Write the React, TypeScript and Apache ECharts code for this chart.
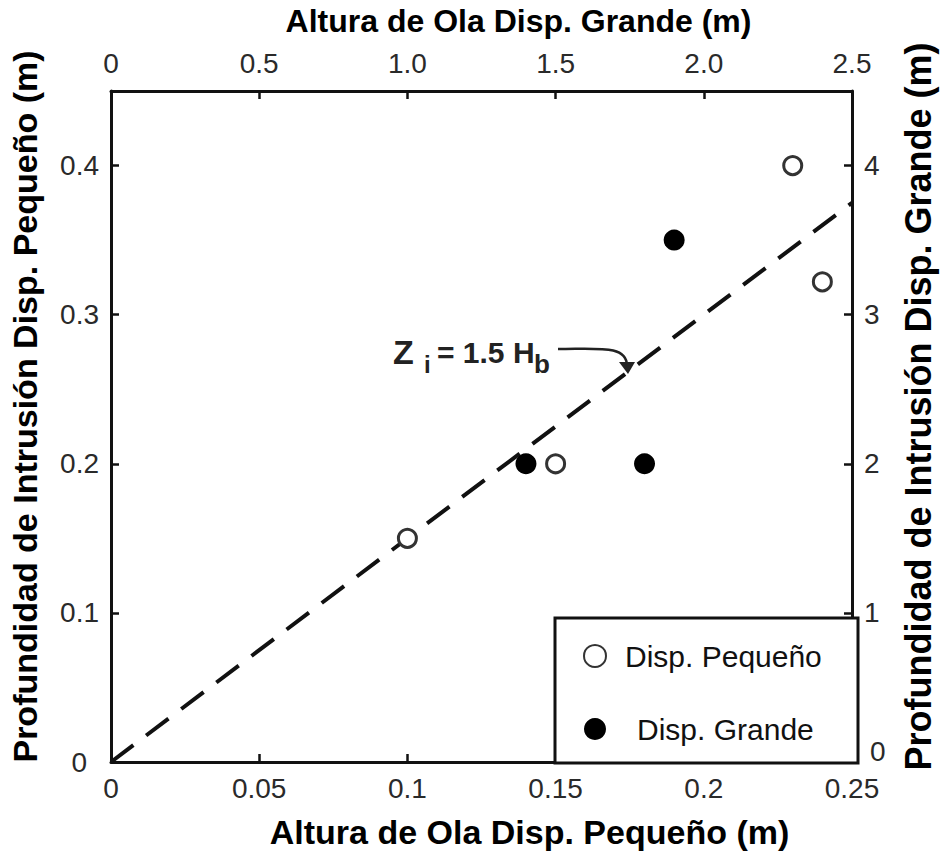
import React, { useEffect, useRef } from "react";
import * as echarts from "echarts";

const smallX = [0.1, 0.15, 0.23, 0.24];
const smallY = [0.15, 0.2, 0.4, 0.322];
const largeX = [1.4, 1.8, 1.9];
const largeY = [2.0, 2.0, 3.5];
const fitLine = [
  [0, 0],
  [0.25, 0.375],
];
const seriesNames = ["Disp. Pequeño", "Disp. Grande"];

const FONT = "'Liberation Sans', Arial, sans-serif";

export default function App() {
  const ref = useRef<HTMLDivElement>(null);
  useEffect(() => {
    document.body.style.margin = "0";
    const chart = echarts.init(ref.current!, null, { renderer: "svg" });
    const axisLine = { show: true, onZero: false, lineStyle: { color: "#111", width: 3 } };
    const axisTick = { show: true, inside: true, length: 8, lineStyle: { color: "#111", width: 2.5 } };
    const label = { color: "#2a2a2a", fontSize: 28, fontFamily: FONT, margin: 12 };
    const nameStyle = { color: "#000", fontSize: 34, fontWeight: "bold" as const, fontFamily: FONT };
    chart.setOption({
      animation: false,
      backgroundColor: "#fff",
      grid: { left: 108, right: 86, top: 91, bottom: 91 },
      xAxis: [
        {
          type: "value",
          position: "bottom",
          min: 0,
          max: 0.25,
          interval: 0.05,
          axisLine,
          axisTick,
          splitLine: { show: false },
          axisLabel: label,
          name: "Altura de Ola Disp. Pequeño (m)",
          nameLocation: "middle",
          nameGap: 53,
          nameTextStyle: { ...nameStyle, padding: [0, 0, 0, 96] },
        },
        {
          type: "value",
          position: "top",
          min: 0,
          max: 2.5,
          interval: 0.5,
          axisLine,
          axisTick,
          splitLine: { show: false },
          axisLabel: { ...label, margin: 14, formatter: (v: number) => (v === 0 ? "0" : v.toFixed(1)) },
          name: "Altura de Ola Disp. Grande (m)",
          nameLocation: "middle",
          nameGap: 54,
          nameTextStyle: { ...nameStyle, fontSize: 32, padding: [0, 0, 0, 74] },
        },
      ],
      yAxis: [
        {
          type: "value",
          position: "left",
          min: 0,
          max: 0.45,
          interval: 0.1,
          axisLine,
          axisTick,
          splitLine: { show: false },
          axisLabel: {
            ...label,
            showMaxLabel: false,
            formatter: (v: number) => (v === 0 ? "{z|0}" : String(v)),
            rich: { z: { fontSize: 28, fontFamily: FONT, color: "#2a2a2a", padding: [0, 12, 0, 0] } },
          },
          name: "Profundidad de Intrusión Disp. Pequeño (m)",
          nameLocation: "middle",
          nameGap: 69,
          nameTextStyle: { ...nameStyle, padding: [0, 0, 0, 40] },
        },
        {
          type: "value",
          position: "right",
          min: 0,
          max: 4.5,
          interval: 1,
          axisLine,
          axisTick,
          splitLine: { show: false },
          axisLabel: {
            ...label,
            showMaxLabel: false,
            formatter: (v: number) => (v === 0 ? "{z|0}" : String(v)),
            rich: { z: { fontSize: 28, fontFamily: FONT, color: "#2a2a2a", padding: [0, 0, 22, 6] } },
          },
          name: "Profundidad de Intrusión Disp. Grande (m)",
          nameLocation: "middle",
          nameGap: 48,
          nameTextStyle: { ...nameStyle, fontSize: 36, padding: [0, 0, 0, 40] },
        },
      ],
      legend: {
        orient: "vertical",
        left: 578,
        top: 636,
        itemWidth: 22,
        itemHeight: 22,
        itemGap: 43,
        textStyle: { fontSize: 30, fontFamily: FONT, color: "#111", lineHeight: 30 },
        data: [
          { name: seriesNames[0], textStyle: { padding: [0, 0, 0, 14] } },
          { name: seriesNames[1], textStyle: { padding: [0, 0, 0, 26] } },
        ],
      },
      series: [
        {
          type: "line",
          name: "fit",
          xAxisIndex: 0,
          yAxisIndex: 0,
          data: fitLine,
          showSymbol: false,
          symbol: "none",
          lineStyle: { color: "#111", width: 4, type: [28, 16] },
          silent: true,
          z: 1,
        },
        {
          type: "scatter",
          name: seriesNames[0],
          xAxisIndex: 0,
          yAxisIndex: 0,
          symbol: "circle",
          symbolSize: 18,
          itemStyle: { color: "#fff", borderColor: "#333", borderWidth: 3, opacity: 1 },
          data: smallX.map((x, i) => [x, smallY[i]]),
          z: 3,
        },
        {
          type: "scatter",
          name: seriesNames[1],
          xAxisIndex: 1,
          yAxisIndex: 1,
          symbol: "circle",
          symbolSize: 21,
          itemStyle: { color: "#000", opacity: 1 },
          data: largeX.map((x, i) => [x, largeY[i]]),
          z: 3,
        },
      ],
      graphic: [
        {
          type: "rect",
          shape: { x: 555, y: 618, width: 303, height: 145 },
          style: { fill: "#fff", stroke: "#111", lineWidth: 3 },
          z: 2,
        },
        {
          type: "text",
          x: 393,
          y: 352,
          style: { text: "Z", fontSize: 34, fontWeight: "bold", fontFamily: FONT, fill: "#222", verticalAlign: "middle" },
        },
        {
          type: "text",
          x: 424,
          y: 364,
          style: { text: "i", fontSize: 24, fontWeight: "bold", fontFamily: FONT, fill: "#222", verticalAlign: "middle" },
        },
        {
          type: "text",
          x: 437,
          y: 352,
          style: { text: "= 1.5 H", fontSize: 30, fontWeight: "bold", fontFamily: FONT, fill: "#222", verticalAlign: "middle" },
        },
        {
          type: "text",
          x: 534,
          y: 364,
          style: { text: "b", fontSize: 26, fontWeight: "bold", fontFamily: FONT, fill: "#222", verticalAlign: "middle" },
        },
        {
          type: "bezierCurve",
          shape: { x1: 558, y1: 349, x2: 627, y2: 366, cpx1: 600, cpy1: 349, cpx2: 627, cpy2: 345 },
          style: { stroke: "#222", lineWidth: 2.5, fill: "none" },
        },
        {
          type: "polygon",
          shape: { points: [[619, 362], [635, 362], [628, 374]] },
          style: { fill: "#222" },
        },
      ],
    });
    return () => chart.dispose();
  }, []);
  return <div ref={ref} style={{ width: 944, height: 854 }} />;
}
